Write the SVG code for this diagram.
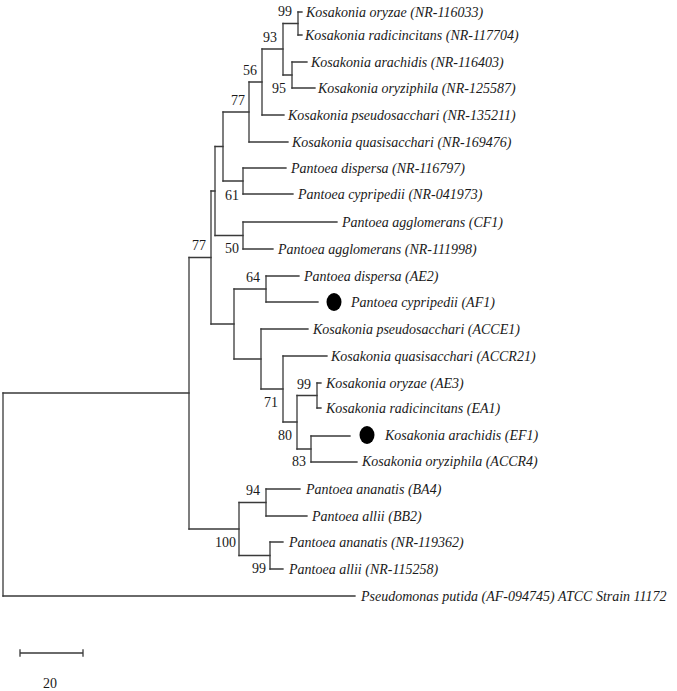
<svg xmlns="http://www.w3.org/2000/svg" width="677" height="691" viewBox="0 0 677 691">
<style>
.br{fill:none;stroke:#3a3a3a;stroke-width:1.3;stroke-linecap:square}
.lf{font-family:"Liberation Serif","Times New Roman",serif;font-size:14px;font-style:italic;fill:#1a1a1a}
.bs{font-family:"Liberation Serif","Times New Roman",serif;font-size:14px;fill:#1a1a1a}
.dot{fill:#000}
</style>
<rect width="677" height="691" fill="#fff"/>
<g id="connectors" class="br">
<path d="M298 12V35M292 62V88M283 23.5V75M262 49V115M249 82V142M243 168V194M223 112V181M243 222V249M215 146.5V235.5M266 276V302M317 383V408M311 436V462M297 395.5V449M283 356V422M261 329V389M234 289V359M211 191V324M266 489V516M270 542V569M239 502.5V555.5M189 257.5V529M3 393V596"/>
<path d="M298 12H302M298 35H302M283 23.5H298M283 75H292M292 62H307M292 88H315M262 49H283M262 115H284M249 82H262M249 142H288M223 112H249M223 181H243M243 168H286M243 194H293M215 146.5H223M215 235.5H243M243 222H337M243 249H273M211 191H215M211 324H234M234 289H266M234 359H261M266 276H299M266 302H318M261 329H308M261 389H283M283 356H327M283 422H297M297 395.5H317M297 449H311M317 383H321M317 408H321M311 436H350M311 462H357M189 257.5H211M189 529H239M239 502.5H266M239 555.5H270M266 489H300M266 516H307M270 542H283M270 569H283M3 393H189M3 596H355"/>
</g>
<g id="leaf-k-oryzae-nr116033"><text class="lf" x="306" y="17">Kosakonia oryzae (NR-116033)</text></g>
<g id="leaf-k-radicincitans-nr117704"><text class="lf" x="305" y="40">Kosakonia radicincitans (NR-117704)</text></g>
<g id="leaf-k-arachidis-nr116403"><text class="lf" x="311" y="67">Kosakonia arachidis (NR-116403)</text></g>
<g id="leaf-k-oryziphila-nr125587"><text class="lf" x="318" y="93">Kosakonia oryziphila (NR-125587)</text></g>
<g id="leaf-k-pseudosacchari-nr135211"><text class="lf" x="288" y="120">Kosakonia pseudosacchari (NR-135211)</text></g>
<g id="leaf-k-quasisacchari-nr169476"><text class="lf" x="292" y="147">Kosakonia quasisacchari (NR-169476)</text></g>
<g id="leaf-p-dispersa-nr116797"><text class="lf" x="291" y="173">Pantoea dispersa (NR-116797)</text></g>
<g id="leaf-p-cypripedii-nr041973"><text class="lf" x="298" y="199">Pantoea cypripedii (NR-041973)</text></g>
<g id="leaf-p-agglomerans-cf1"><text class="lf" x="342" y="227">Pantoea agglomerans (CF1)</text></g>
<g id="leaf-p-agglomerans-nr111998"><text class="lf" x="278" y="254">Pantoea agglomerans (NR-111998)</text></g>
<g id="leaf-p-dispersa-ae2"><text class="lf" x="304" y="281">Pantoea dispersa (AE2)</text></g>
<g id="leaf-p-cypripedii-af1"><ellipse class="dot" cx="334" cy="302" rx="7.5" ry="9"/><text class="lf" x="351" y="307">Pantoea cypripedii (AF1)</text></g>
<g id="leaf-k-pseudosacchari-acce1"><text class="lf" x="313" y="334">Kosakonia pseudosacchari (ACCE1)</text></g>
<g id="leaf-k-quasisacchari-accr21"><text class="lf" x="331" y="361">Kosakonia quasisacchari (ACCR21)</text></g>
<g id="leaf-k-oryzae-ae3"><text class="lf" x="326" y="388">Kosakonia oryzae (AE3)</text></g>
<g id="leaf-k-radicincitans-ea1"><text class="lf" x="326" y="413">Kosakonia radicincitans (EA1)</text></g>
<g id="leaf-k-arachidis-ef1"><ellipse class="dot" cx="367" cy="435" rx="7.5" ry="9"/><text class="lf" x="385" y="440">Kosakonia arachidis (EF1)</text></g>
<g id="leaf-k-oryziphila-accr4"><text class="lf" x="362" y="466">Kosakonia oryziphila (ACCR4)</text></g>
<g id="leaf-p-ananatis-ba4"><text class="lf" x="306" y="494">Pantoea ananatis (BA4)</text></g>
<g id="leaf-p-allii-bb2"><text class="lf" x="312" y="521">Pantoea allii (BB2)</text></g>
<g id="leaf-p-ananatis-nr119362"><text class="lf" x="289" y="547">Pantoea ananatis (NR-119362)</text></g>
<g id="leaf-p-allii-nr115258"><text class="lf" x="289" y="574">Pantoea allii (NR-115258)</text></g>
<g id="leaf-pseudomonas-putida"><text class="lf" x="361" y="601">Pseudomonas putida (AF-094745) ATCC Strain 11172</text></g>
<g id="bootstrap">
<text class="bs" x="278" y="16">99</text>
<text class="bs" x="263" y="42">93</text>
<text class="bs" x="243" y="75">56</text>
<text class="bs" x="272" y="93">95</text>
<text class="bs" x="231" y="105">77</text>
<text class="bs" x="225" y="200">61</text>
<text class="bs" x="192" y="250">77</text>
<text class="bs" x="225" y="253">50</text>
<text class="bs" x="246" y="282">64</text>
<text class="bs" x="297" y="389">99</text>
<text class="bs" x="264" y="407">71</text>
<text class="bs" x="278" y="440">80</text>
<text class="bs" x="292" y="466">83</text>
<text class="bs" x="246" y="495">94</text>
<text class="bs" x="215" y="547">100</text>
<text class="bs" x="252" y="573">99</text>
</g>
<g id="scale-bar">
<path class="br" d="M20 653H83M20 650V656M83 650V656"/>
<text class="bs" x="43" y="688">20</text>
</g>
</svg>
